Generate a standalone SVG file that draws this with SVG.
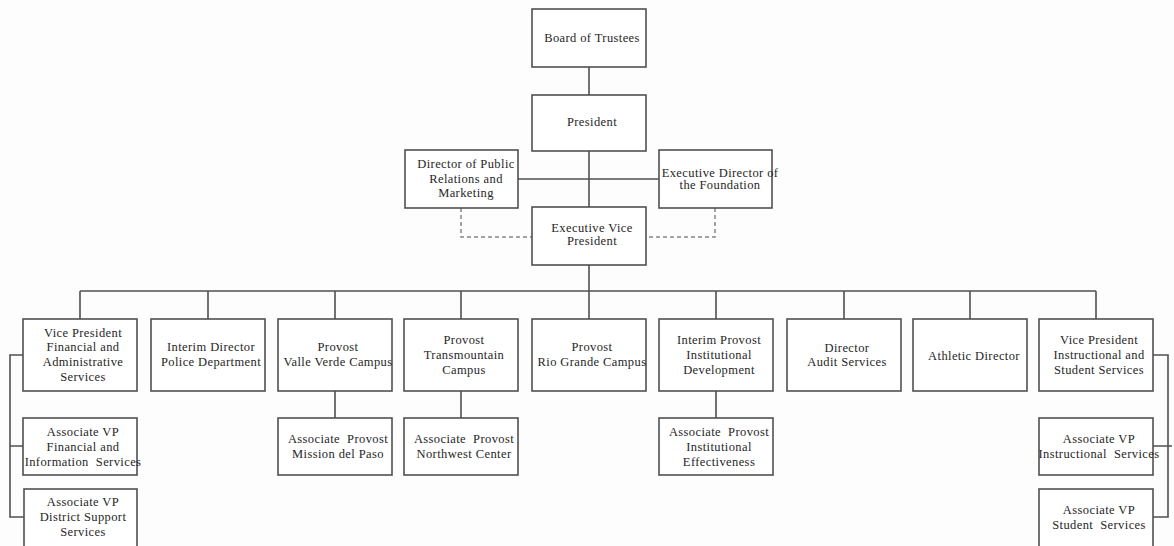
<svg xmlns="http://www.w3.org/2000/svg" width="1174" height="546" viewBox="0 0 1174 546">
  <style>
    .box { fill: #ffffff; stroke: #505050; stroke-width: 1.6; }
    .ln { fill: none; stroke: #505050; stroke-width: 1.6; }
    .dash { fill: none; stroke: #858585; stroke-width: 1.5; stroke-dasharray: 4 3; }
    text { font-family: "Liberation Serif", "Times New Roman", serif; font-size: 12.5px; letter-spacing: 0.4px; fill: #262626; text-anchor: middle; white-space: pre; }
  </style>
  <rect width="1174" height="546" fill="#fdfdfd"/>

  <g id="connectors">
    <path class="ln" d="M589,67 V95"/>
    <path class="ln" d="M589,151 V207"/>
    <path class="ln" d="M518,179 H659"/>
    <path class="dash" d="M461,208 V237 H532"/>
    <path class="dash" d="M715,208 V237 H646"/>
    <path class="ln" d="M589,265 V291"/>
    <path class="ln" d="M80,291 H1096"/>
    <path class="ln" d="M80,291 V319 M208,291 V319 M335,291 V319 M461,291 V319 M589,291 V319 M716,291 V319 M844,291 V319 M970,291 V319 M1096,291 V319"/>
    <path class="ln" d="M335,391 V418 M461,391 V418 M716,391 V418"/>
    <path class="ln" d="M23,355 H10 V517 H25 M10,446 H23"/>
    <path class="ln" d="M1153,355 H1168 V517 H1153 M1153,446 H1172"/>
  </g>

  <g id="board">
    <rect class="box" x="532" y="9" width="114" height="58"/>
    <text x="592" y="42">Board of Trustees</text>
  </g>
  <g id="president">
    <rect class="box" x="532" y="95" width="114" height="56"/>
    <text x="592" y="126">President</text>
  </g>
  <g id="public-relations">
    <rect class="box" x="405" y="150" width="113" height="58"/>
    <text x="466" y="168">Director of Public</text>
    <text x="466" y="182.5">Relations and</text>
    <text x="466" y="197">Marketing</text>
  </g>
  <g id="foundation">
    <rect class="box" x="659" y="150" width="113" height="58"/>
    <text x="720" y="176.5">Executive Director of</text>
    <text x="720" y="189">the Foundation</text>
  </g>
  <g id="evp">
    <rect class="box" x="532" y="207" width="114" height="58"/>
    <text x="592" y="232">Executive Vice</text>
    <text x="592" y="245">President</text>
  </g>

  <g id="vp-financial">
    <rect class="box" x="23" y="319" width="114" height="72"/>
    <text x="83" y="336.5">Vice President</text>
    <text x="83" y="351">Financial and</text>
    <text x="83" y="366">Administrative</text>
    <text x="83" y="381">Services</text>
  </g>
  <g id="police">
    <rect class="box" x="151" y="319" width="114" height="72"/>
    <text x="211" y="351">Interim Director</text>
    <text x="211" y="366">Police Department</text>
  </g>
  <g id="valle-verde">
    <rect class="box" x="278" y="319" width="114" height="72"/>
    <text x="338" y="351">Provost</text>
    <text x="338" y="366">Valle Verde Campus</text>
  </g>
  <g id="transmountain">
    <rect class="box" x="404" y="319" width="114" height="72"/>
    <text x="464" y="344">Provost</text>
    <text x="464" y="359">Transmountain</text>
    <text x="464" y="374">Campus</text>
  </g>
  <g id="rio-grande">
    <rect class="box" x="532" y="319" width="114" height="72"/>
    <text x="592" y="351">Provost</text>
    <text x="592" y="366">Rio Grande Campus</text>
  </g>
  <g id="institutional-development">
    <rect class="box" x="659" y="319" width="114" height="72"/>
    <text x="719" y="344">Interim Provost</text>
    <text x="719" y="359">Institutional</text>
    <text x="719" y="374">Development</text>
  </g>
  <g id="audit">
    <rect class="box" x="787" y="319" width="114" height="72"/>
    <text x="847" y="351.5">Director</text>
    <text x="847" y="366">Audit Services</text>
  </g>
  <g id="athletic">
    <rect class="box" x="913" y="319" width="114" height="72"/>
    <text x="974" y="360">Athletic Director</text>
  </g>
  <g id="vp-instructional">
    <rect class="box" x="1039" y="319" width="114" height="72"/>
    <text x="1099" y="344">Vice President</text>
    <text x="1099" y="359">Instructional and</text>
    <text x="1099" y="374">Student Services</text>
  </g>

  <g id="avp-financial-information">
    <rect class="box" x="23" y="418" width="114" height="57"/>
    <text x="83" y="436">Associate VP</text>
    <text x="83" y="451">Financial and</text>
    <text x="83" y="466">Information  Services</text>
  </g>
  <g id="avp-district-support">
    <rect class="box" x="24" y="489" width="113" height="60"/>
    <text x="83" y="506">Associate VP</text>
    <text x="83" y="521">District Support</text>
    <text x="83" y="536">Services</text>
  </g>
  <g id="mission-del-paso">
    <rect class="box" x="278" y="418" width="114" height="57"/>
    <text x="338" y="443">Associate  Provost</text>
    <text x="338" y="458">Mission del Paso</text>
  </g>
  <g id="northwest">
    <rect class="box" x="404" y="418" width="114" height="57"/>
    <text x="464" y="443">Associate  Provost</text>
    <text x="464" y="458">Northwest Center</text>
  </g>
  <g id="institutional-effectiveness">
    <rect class="box" x="659" y="418" width="114" height="57"/>
    <text x="719" y="436">Associate  Provost</text>
    <text x="719" y="451">Institutional</text>
    <text x="719" y="466">Effectiveness</text>
  </g>
  <g id="avp-instructional">
    <rect class="box" x="1039" y="418" width="114" height="57"/>
    <text x="1099" y="443">Associate VP</text>
    <text x="1099" y="458">Instructional  Services</text>
  </g>
  <g id="avp-student">
    <rect class="box" x="1039" y="489" width="114" height="60"/>
    <text x="1099" y="513.5">Associate VP</text>
    <text x="1099" y="529">Student  Services</text>
  </g>
</svg>
